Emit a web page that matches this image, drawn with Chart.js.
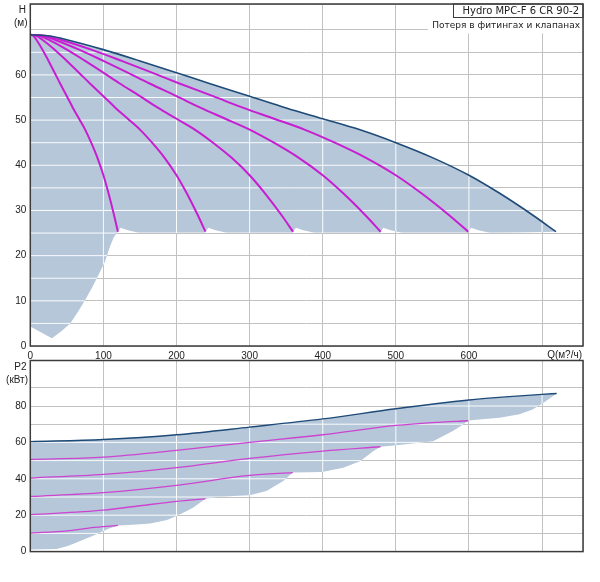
<!DOCTYPE html>
<html>
<head>
<meta charset="utf-8">
<script src="https://cdn.jsdelivr.net/npm/chart.js@4.4.1/dist/chart.umd.min.js"></script>
<style>
  body { margin: 0; background: #fff; }
  .box { position: absolute; left: 0; width: 600px; }
</style>
</head>
<body>
<div class="box" style="top:0;height:362px"><canvas id="headChart"></canvas></div>
<div class="box" style="top:356px;height:200px"><canvas id="powerChart"></canvas></div>
<script>
// ---- head curves (Q m3/h, H m), 1..6 pumps running ----
const headH  = [68.9, 68.6, 67.8, 65.6, 63.1, 60.5, 58.1, 55.3, 52.7, 50.3, 47.9, 45.0, 41.7, 37.8, 33.8, 29.0, 25.3];
const headQ1 = [0, 4.5, 8.3, 16.7, 25, 33.3, 40.8, 50, 58.3, 66.7, 75, 83.3, 91.7, 100, 107, 114.5, 119.8];
const headQ2 = [0, 9, 16.6, 33.4, 50, 66.6, 81.6, 100, 116.6, 133.4, 150, 166.6, 183.4, 200, 214, 229, 239.6];
const headQ3 = [0, 13.5, 24.9, 50.1, 75, 99.9, 122.4, 150, 174.9, 200.1, 225, 249.9, 275.1, 300, 321, 343.5, 359.4];
const headQ4 = [0, 18, 33.2, 66.8, 100, 133.2, 163.2, 200, 233.2, 266.8, 300, 333.2, 366.8, 400, 428, 458, 479.2];
const headQ5 = [0, 22.5, 41.5, 83.5, 125, 166.5, 204, 250, 291.5, 333.5, 375, 416.5, 458.5, 500, 535, 572.5, 599];
const headQ6 = [0, 27, 50, 100, 150, 200, 245, 300, 350, 400, 450, 500, 550, 600, 642, 687, 719];

// lower edge of the shaded operating area (top chart)
const floorQ = [0, 15, 29.6, 42, 54.6, 65, 75, 84, 91, 97, 102, 109, 114, 119.8, 123.5, 133.5, 150, 239,
  239.6, 243.5, 253.5, 270, 358.8, 359.4, 363.3, 373.3, 390, 478.6, 479.2, 483, 493, 510, 598.4,
  599, 603, 613, 630, 719];
const floorH = [4.3, 3, 1.7, 3.2, 5, 7.5, 10.2, 12.8, 15, 17, 18.6, 22, 24, 25.3, 26.2, 25.6, 25, 25,
  25.3, 26.2, 25.6, 25, 25, 25.3, 26.2, 25.6, 25, 25, 25.3, 26.2, 25.6, 25, 25,
  25.3, 26.2, 25.6, 25, 25.3];

// ---- power curves (Q m3/h, P2 kW) ----
const powerQ6 = [0, 100, 200, 300, 400, 500, 600, 650, 700, 720];
const powerP6 = [60.4, 61.6, 64.2, 68.4, 72.9, 78.5, 83.3, 85, 86.4, 86.9];
const powerQ5 = [0, 100, 200, 300, 400, 500, 550, 599];
const powerP5 = [50.6, 51.9, 55.6, 60, 64.2, 69.3, 70.9, 71.9];
const powerQ4 = [0, 100, 200, 300, 400, 479];
const powerP4 = [40.4, 42.4, 46.1, 51.2, 55.2, 57.6];
const powerQ3 = [0, 100, 200, 300, 359];
const powerP3 = [30.3, 32.4, 36.4, 41.9, 43.4];
const powerQ2 = [0, 100, 150, 200, 239.6];
const powerP2 = [20.3, 22.8, 25.2, 27.6, 29];
const powerQ1 = [0, 50, 80, 100, 119.8];
const powerP1 = [10.2, 11.4, 12.9, 13.7, 14.4];

const pFloorQ = [0, 36, 50, 60, 73, 85, 95, 107, 119.8, 140, 164, 187, 200, 214, 223, 232, 239.6,
  255, 278, 300, 323, 346, 359, 399, 428, 451, 469, 479, 501, 551, 578, 592, 599,
  606, 642, 669, 687, 700, 720];
const pFloorP = [1.2, 1.4, 3, 4.5, 6.7, 8.6, 10.4, 12.5, 14.4, 14.8, 15.5, 17.4, 19.6, 22.3, 24.2, 26.9, 29,
  29.9, 30.5, 30.9, 33.3, 38.8, 43.4, 43.7, 46.1, 49.7, 55.2, 57.6, 58.4, 60.7, 66.2, 69.9, 71.9,
  72.3, 73.6, 75.4, 78.1, 81.3, 86.9];

const FILL = '#b6c7d9';
const MAGENTA = '#c81ed2';
const NAVY = '#1e4a78';

Chart.defaults.font.family = '"Liberation Sans", Arial, sans-serif';
Chart.defaults.font.size = 10;
Chart.defaults.color = '#222';

const pts = (xs, ys) => xs.map((x, i) => ({ x: x, y: ys[i] }));

function curve(xs, ys, color, width) {
  return { data: pts(xs, ys), borderColor: color, borderWidth: width, fill: false,
           cubicInterpolationMode: 'monotone', order: 0 };
}

// white grid lines drawn over the shaded area only
const gridOverFill = {
  id: 'gridOverFill',
  afterDatasetDraw(chart, args) {
    if (!chart.data.datasets[args.index].gridOver) return;
    const upper = args.meta.data;
    const lower = chart.getDatasetMeta(args.index + 1).data;
    const ctx = chart.ctx, a = chart.chartArea;
    ctx.save();
    ctx.beginPath();
    upper.forEach((p, i) => i ? ctx.lineTo(p.x, p.y) : ctx.moveTo(p.x, p.y));
    for (let i = lower.length - 1; i >= 0; i--) ctx.lineTo(lower[i].x, lower[i].y);
    ctx.closePath();
    ctx.clip();
    ctx.strokeStyle = 'rgba(255,255,255,0.92)';
    ctx.lineWidth = 1;
    const sx = chart.scales.x, sy = chart.scales.y;
    sx.ticks.forEach(t => {
      const x = sx.getPixelForValue(t.value);
      ctx.beginPath(); ctx.moveTo(x, a.top); ctx.lineTo(x, a.bottom); ctx.stroke();
    });
    sy.ticks.forEach(t => {
      const y = sy.getPixelForValue(t.value);
      ctx.beginPath(); ctx.moveTo(a.left, y); ctx.lineTo(a.right, y); ctx.stroke();
    });
    ctx.restore();
  }
};

// frame, axis titles and the little legend box
const frame = {
  id: 'frame',
  afterDraw(chart, args, opts) {
    const ctx = chart.ctx, a = chart.chartArea;
    ctx.save();
    ctx.textAlign = 'right';
    ctx.textBaseline = 'middle';
    if (opts.legend) {
      ctx.fillStyle = '#fff';
      ctx.fillRect(428, 17.5, a.right - 428, 16);
      ctx.fillRect(453, a.top, a.right - 453, 13.5);
      ctx.strokeStyle = '#3c3c3c';
      ctx.lineWidth = 1;
      ctx.strokeRect(453.5, a.top, a.right - 453.5, 13.5);
      ctx.fillStyle = '#222';
      opts.legend.forEach(t => {
        ctx.font = t[3] + 'px "DejaVu Sans", Verdana, sans-serif';
        ctx.fillText(t[0], t[1], t[2]);
      });
    }
    ctx.strokeStyle = '#3c3c3c';
    ctx.lineWidth = 1.5;
    ctx.strokeRect(a.left, a.top, a.right - a.left, a.bottom - a.top);
    ctx.fillStyle = '#222';
    ctx.font = '10px "Liberation Sans", Arial, sans-serif';
    (opts.texts || []).forEach(t => ctx.fillText(t[0], t[1], t[2]));
    ctx.restore();
  }
};

Chart.register(gridOverFill, frame);

function axes(yMax, yStep, yShow, showX, xHeight) {
  return {
    x: { type: 'linear', min: 0, max: 756,
         border: { display: false },
         grid: { color: '#c2c2c2', drawTicks: false },
         ticks: { display: showX, stepSize: 100, padding: 4, maxRotation: 0, autoSkip: false,
                  callback: v => v <= 600 ? v : '' },
         afterFit: s => { s.height = xHeight; s.paddingLeft = 0; s.paddingRight = 0; } },
    y: { min: 0, max: yMax,
         border: { display: false },
         grid: { color: '#c2c2c2', drawTicks: false },
         ticks: { stepSize: yStep, padding: 4, autoSkip: false, callback: yShow },
         afterFit: s => { s.width = 30.3; s.paddingTop = 0; s.paddingBottom = 0; } }
  };
}

new Chart(document.getElementById('headChart'), {
  type: 'line',
  data: {
    datasets: [
      curve(headQ6, headH, NAVY, 1.6),
      curve(headQ5, headH, MAGENTA, 2),
      curve(headQ4, headH, MAGENTA, 2),
      curve(headQ3, headH, MAGENTA, 2),
      curve(headQ2, headH, MAGENTA, 2),
      curve(headQ1, headH, MAGENTA, 2),
      { data: pts(headQ6, headH), borderWidth: 0, backgroundColor: FILL, fill: '+1', order: 10, gridOver: true },
      { data: pts(floorQ, floorH), borderWidth: 0, fill: false, order: 11 }
    ]
  },
  options: {
    responsive: true, maintainAspectRatio: false, animation: false,
    layout: { padding: { left: 0, right: 17, top: 4, bottom: 0 } },
    elements: { point: { radius: 0 }, line: { tension: 0 } },
    plugins: {
      legend: { display: false }, tooltip: { enabled: false },
      frame: {
        legend: [['Hydro MPC-F 6 CR 90-2', 579, 11, 10], ['Потеря в фитингах и клапанах', 580, 26, 9]],
        texts: [['H', 26, 10], ['(м)', 27.5, 23.5], ['Q(м?/ч)', 582, 355]]
      }
    },
    scales: axes(75.7, 5, v => (v % 10 === 0 && v <= 60) ? v : '', true, 16)
  }
});

new Chart(document.getElementById('powerChart'), {
  type: 'line',
  data: {
    datasets: [
      curve(powerQ6, powerP6, NAVY, 1.4),
      curve(powerQ5, powerP5, '#cc44d0', 1.3),
      curve(powerQ4, powerP4, '#cc44d0', 1.3),
      curve(powerQ3, powerP3, '#cc44d0', 1.3),
      curve(powerQ2, powerP2, '#cc44d0', 1.3),
      curve(powerQ1, powerP1, '#cc44d0', 1.3),
      { data: pts(powerQ6, powerP6), borderWidth: 0, backgroundColor: FILL, fill: '+1', order: 10, gridOver: true },
      { data: pts(pFloorQ, pFloorP), borderWidth: 0, fill: false, order: 11 }
    ]
  },
  options: {
    responsive: true, maintainAspectRatio: false, animation: false,
    layout: { padding: { left: 0, right: 17, top: 4.5, bottom: 0 } },
    elements: { point: { radius: 0 }, line: { tension: 0 } },
    plugins: {
      legend: { display: false }, tooltip: { enabled: false },
      frame: { texts: [['P2', 26.5, 11], ['(кВт)', 28, 24]] }
    },
    scales: axes(105, 10, v => (v % 20 === 0 && v <= 80) ? v : '', false, 4.4)
  }
});
</script>
</body>
</html>
